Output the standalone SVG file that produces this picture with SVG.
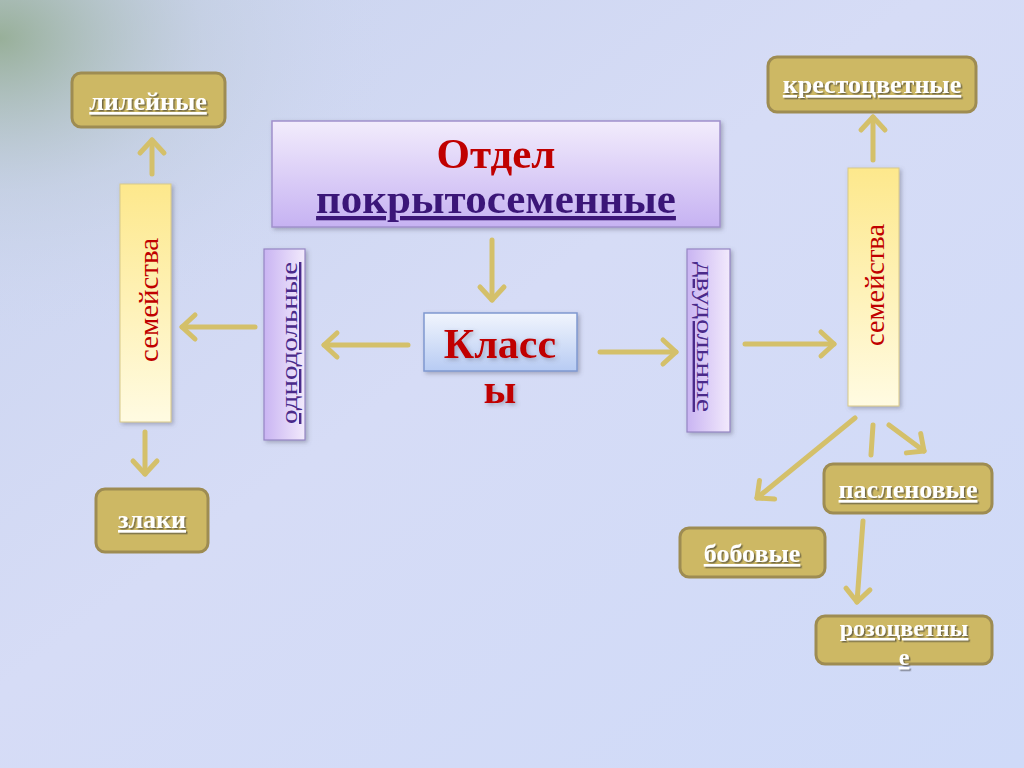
<svg xmlns="http://www.w3.org/2000/svg" width="1024" height="768" viewBox="0 0 1024 768">
<defs>
<linearGradient id="bg" x1="0" y1="0" x2="1" y2="1">
<stop offset="0" stop-color="#c9d3ee"/><stop offset="0.45" stop-color="#d6dcf6"/><stop offset="1" stop-color="#cfdaf8"/>
</linearGradient>
<radialGradient id="green" cx="0" cy="0.05" r="0.4">
<stop offset="0" stop-color="#8fa98a" stop-opacity="0.85"/><stop offset="0.5" stop-color="#b9c7cf" stop-opacity="0.35"/><stop offset="1" stop-color="#d0d9f2" stop-opacity="0"/>
</radialGradient>
<linearGradient id="lav" x1="0" y1="0" x2="0" y2="1">
<stop offset="0" stop-color="#f2ecfc"/><stop offset="1" stop-color="#c6b2f2"/>
</linearGradient>
<linearGradient id="lavv" x1="0" y1="0" x2="1" y2="0">
<stop offset="0" stop-color="#c9b4f2"/><stop offset="1" stop-color="#f2eafc"/>
</linearGradient>
<linearGradient id="blu" x1="0" y1="0" x2="0" y2="1">
<stop offset="0" stop-color="#f1f5fd"/><stop offset="1" stop-color="#b7cbf3"/>
</linearGradient>
<linearGradient id="yel" x1="0" y1="0" x2="0" y2="1">
<stop offset="0" stop-color="#fde88c"/><stop offset="1" stop-color="#fffbe2"/>
</linearGradient>
<filter id="sh" x="-10%" y="-10%" width="130%" height="130%">
<feDropShadow dx="2" dy="2" stdDeviation="2" flood-color="#556" flood-opacity="0.4"/>
</filter>
<filter id="tsh" x="-10%" y="-20%" width="130%" height="150%">
<feDropShadow dx="1.5" dy="1.5" stdDeviation="0.6" flood-color="#333" flood-opacity="0.6"/>
</filter>
<marker id="ah" markerUnits="userSpaceOnUse" markerWidth="40" markerHeight="40" refX="20" refY="20" orient="auto" overflow="visible">
<path d="M7,8 L20,20 L7,32" fill="none" stroke="#d4c06a" stroke-width="5" stroke-linecap="round" stroke-linejoin="round"/>
</marker>
<style>
.gold{fill:#cdb864;stroke:#9e8c52;stroke-width:3}
.gt{font-family:"Liberation Serif","DejaVu Serif",serif;font-weight:bold;font-size:26px;fill:#ffffff;text-anchor:middle;text-decoration:underline;filter:url(#tsh)}
.conn line{stroke:#d4c06a;stroke-width:5;stroke-linecap:round;marker-end:url(#ah)}
.vt{font-family:"Liberation Serif","DejaVu Serif",serif;text-anchor:middle}
</style>
</defs>
<rect width="1024" height="768" fill="url(#bg)"/>
<rect width="1024" height="768" fill="url(#green)"/>

<g class="conn">
<line x1="492" y1="240" x2="492" y2="300"/>
<line x1="408" y1="345" x2="324" y2="345"/>
<line x1="600" y1="352" x2="676" y2="352"/>
<line x1="255" y1="327" x2="182" y2="327"/>
<line x1="745" y1="344" x2="834" y2="344"/>
<line x1="152" y1="174" x2="152" y2="140"/>
<line x1="145" y1="432" x2="145" y2="474"/>
<line x1="873" y1="160" x2="873" y2="117"/>
<line x1="855" y1="418" x2="757" y2="498"/>
<line x1="873" y1="425" x2="871" y2="455" style="marker-end:none"/>
<line x1="889" y1="425" x2="924" y2="451"/>
<line x1="863" y1="521" x2="857" y2="602"/>
</g>

<g id="otdel" filter="url(#sh)">
<rect x="272" y="121" width="448" height="106" fill="url(#lav)" stroke="#a090cc" stroke-width="1.5"/>
<text x="496" y="168" font-family="Liberation Serif,DejaVu Serif,serif" font-weight="bold" font-size="43" fill="#c00000" text-anchor="middle">Отдел</text>
<text x="496" y="213" font-family="Liberation Serif,DejaVu Serif,serif" font-weight="bold" font-size="43" fill="#3a1878" text-anchor="middle" text-decoration="underline">покрытосеменные</text>
</g>

<g id="klassy">
<rect x="424" y="313" width="153" height="58" fill="url(#blu)" stroke="#7f98d0" stroke-width="1.5" filter="url(#sh)"/>
<text x="500" y="358" font-family="Liberation Serif,DejaVu Serif,serif" font-weight="bold" font-size="42" fill="#c00000" text-anchor="middle" filter="url(#sh)">Класс</text>
<text x="500" y="403" font-family="Liberation Serif,DejaVu Serif,serif" font-weight="bold" font-size="42" fill="#c00000" text-anchor="middle" filter="url(#sh)">ы</text>
</g>

<g id="odnodolnye">
<rect x="264" y="249" width="41" height="191" fill="url(#lavv)" stroke="#9585c4" stroke-width="1.2" filter="url(#sh)"/>
<text class="vt" transform="translate(297,343) rotate(-90)" font-size="24" textLength="162" lengthAdjust="spacingAndGlyphs" fill="#4a2a8a" text-decoration="underline">однодольные</text>
</g>

<g id="dvudolnye">
<rect x="687" y="249" width="43" height="183" fill="url(#lavv)" stroke="#9585c4" stroke-width="1.2" filter="url(#sh)"/>
<text class="vt" transform="translate(697,337) rotate(90)" font-size="24" textLength="150" lengthAdjust="spacingAndGlyphs" fill="#4a2a8a" text-decoration="underline">двудольные</text>
</g>

<g id="semeystva-left">
<rect x="120" y="184" width="51" height="238" fill="url(#yel)" stroke="#d8c98a" stroke-width="1" filter="url(#sh)"/>
<text class="vt" transform="translate(158,300) rotate(-90)" font-size="27" textLength="124" lengthAdjust="spacingAndGlyphs" fill="#c00000">семейства</text>
</g>

<g id="semeystva-right">
<rect x="848" y="168" width="51" height="238" fill="url(#yel)" stroke="#d8c98a" stroke-width="1" filter="url(#sh)"/>
<text class="vt" transform="translate(884,285) rotate(-90)" font-size="27" textLength="122" lengthAdjust="spacingAndGlyphs" fill="#c00000">семейства</text>
</g>

<g id="lileynye">
<rect class="gold" x="72" y="73" width="153" height="54" rx="9"/>
<text class="gt" x="148" y="110">лилейные</text>
</g>

<g id="zlaki">
<rect class="gold" x="96" y="489" width="112" height="63" rx="9"/>
<text class="gt" x="152" y="528">злаки</text>
</g>

<g id="krestotsvetnye">
<rect class="gold" x="768" y="57" width="208" height="55" rx="9"/>
<text class="gt" x="872" y="93">крестоцветные</text>
</g>

<g id="paslenovye">
<rect class="gold" x="824" y="464" width="168" height="49" rx="9"/>
<text class="gt" x="908" y="498">пасленовые</text>
</g>

<g id="bobovye">
<rect class="gold" x="680" y="528" width="145" height="49" rx="9"/>
<text class="gt" x="752" y="562">бобовые</text>
</g>

<g id="rozotsvetnye">
<rect class="gold" x="816" y="616" width="176" height="48" rx="9"/>
<text class="gt" x="904" y="636" style="font-size:24px">розоцветны</text>
<text class="gt" x="904" y="665" style="font-size:24px">е</text>
</g>
</svg>
